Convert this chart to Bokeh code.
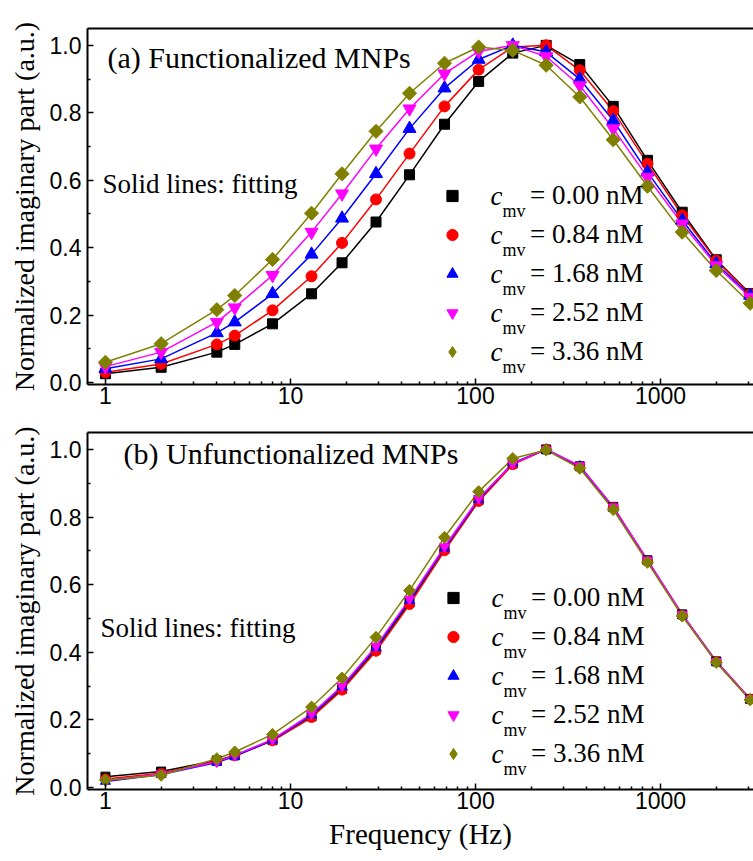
import math
from bokeh.plotting import figure
from bokeh.models import (Range1d, FixedTicker, PrintfTickFormatter, LogAxis,
                          Legend, LegendItem, Label)
from bokeh.layouts import column
from bokeh.embed import file_html
from bokeh.resources import INLINE

# ---------------- data ----------------
freq = [1, 2, 4, 5, 8, 13, 19, 29, 44, 68, 104, 159, 241, 366, 555, 850, 1310, 2000, 3050]

conc_labels = ["0.00", "0.84", "1.68", "2.52", "3.36"]

# (a) Functionalized MNPs
a_000 = [0.026, 0.045, 0.090, 0.113, 0.174, 0.263, 0.355, 0.476, 0.616, 0.766, 0.893, 0.977, 1.000, 0.943, 0.819, 0.659, 0.505, 0.364, 0.264]
a_084 = [0.030, 0.055, 0.113, 0.139, 0.214, 0.315, 0.414, 0.543, 0.679, 0.819, 0.928, 0.995, 1.000, 0.926, 0.805, 0.649, 0.496, 0.362, 0.262]
a_168 = [0.041, 0.070, 0.147, 0.179, 0.263, 0.380, 0.487, 0.619, 0.753, 0.873, 0.958, 1.000, 0.980, 0.900, 0.777, 0.624, 0.481, 0.352, 0.258]
a_252 = [0.047, 0.090, 0.179, 0.222, 0.318, 0.446, 0.560, 0.693, 0.812, 0.916, 0.982, 1.000, 0.967, 0.881, 0.753, 0.609, 0.471, 0.347, 0.253]
a_336 = [0.060, 0.115, 0.216, 0.258, 0.365, 0.502, 0.619, 0.745, 0.858, 0.947, 0.995, 0.985, 0.941, 0.847, 0.720, 0.582, 0.446, 0.332, 0.235]

# (b) Unfunctionalized MNPs
b_000 = [0.032, 0.047, 0.080, 0.095, 0.140, 0.210, 0.292, 0.408, 0.547, 0.705, 0.850, 0.958, 1.000, 0.950, 0.830, 0.672, 0.512, 0.373, 0.262]
b_084 = [0.025, 0.042, 0.078, 0.094, 0.138, 0.207, 0.288, 0.403, 0.541, 0.700, 0.846, 0.955, 1.000, 0.948, 0.828, 0.670, 0.510, 0.372, 0.261]
b_168 = [0.018, 0.038, 0.074, 0.092, 0.140, 0.214, 0.297, 0.413, 0.553, 0.708, 0.851, 0.960, 1.000, 0.950, 0.826, 0.670, 0.509, 0.371, 0.260]
b_252 = [0.020, 0.040, 0.076, 0.095, 0.142, 0.218, 0.300, 0.418, 0.557, 0.712, 0.855, 0.958, 1.000, 0.952, 0.830, 0.673, 0.512, 0.373, 0.262]
b_336 = [0.022, 0.036, 0.085, 0.105, 0.157, 0.238, 0.324, 0.444, 0.583, 0.740, 0.875, 0.973, 0.998, 0.944, 0.822, 0.666, 0.507, 0.370, 0.259]

x_major = [1, 10, 100, 1000]
x_minor = [2, 3, 4, 5, 6, 7, 8, 9, 20, 30, 40, 50, 60, 70, 80, 90,
           200, 300, 400, 500, 600, 700, 800, 900, 2000, 3000]
y_major = [0.0, 0.2, 0.4, 0.6, 0.8, 1.0]
y_minor = [0.1, 0.3, 0.5, 0.7, 0.9]

# ---------------- styles ----------------
colors = ["#000000", "#FF0000", "#0000FF", "#FF00FF", "#808000"]
markers = ["square", "circle", "triangle", "inverted_triangle", "square"]
legend_markers = ["square", "circle", "triangle", "inverted_triangle", "diamond"]
angles = [0, 0, 0, 0, math.pi / 4]
sizes_a = [10, 11, 13, 13, 10]
sizes_b = [9, 10, 10, 10, 8.5]

SERIF = "Liberation Serif"
SANS = "Liberation Sans"


def make_panel(series, sizes, height, top, bottom, title, title_pos,
               note_pos, legend_pos, xlabel=None):
    p = figure(width=753, height=height, x_axis_type="log",
               x_range=Range1d(0.8, 3180), y_range=Range1d(-0.006, 1.05),
               output_backend="svg", toolbar_location=None,
               min_border_left=87, min_border_right=0,
               min_border_top=top, min_border_bottom=bottom)
    p.outline_line_color = None
    p.grid.visible = False
    p.background_fill_color = "white"
    p.border_fill_color = "white"

    for ax in (p.xaxis, p.yaxis):
        ax.axis_line_width = 2
        ax.axis_line_color = "black"
        ax.major_tick_in = 6
        ax.major_tick_out = 0
        ax.minor_tick_in = 3
        ax.minor_tick_out = 0
        ax.major_tick_line_width = 1.5
        ax.minor_tick_line_width = 1.5
        ax.major_tick_line_color = "black"
        ax.minor_tick_line_color = "black"
        ax.major_label_text_font = SANS
        ax.major_label_text_font_size = "23px"
        ax.major_label_text_color = "black"

    p.xaxis.ticker = FixedTicker(ticks=x_major, minor_ticks=x_minor)
    p.xaxis.formatter = PrintfTickFormatter(format="%d")
    p.xaxis.major_label_standoff = 2
    p.yaxis.ticker = FixedTicker(ticks=y_major, minor_ticks=y_minor)
    p.yaxis.formatter = PrintfTickFormatter(format="%.1f")
    p.yaxis.major_label_standoff = 6

    p.yaxis.axis_label = "Normalized imaginary part (a.u.)"
    p.yaxis.axis_label_text_font = SERIF
    p.yaxis.axis_label_text_font_size = "28px"
    p.yaxis.axis_label_text_font_style = "normal"
    p.yaxis.axis_label_text_color = "black"
    p.yaxis.axis_label_standoff = 7
    if xlabel:
        p.xaxis.axis_label = xlabel
        p.xaxis.axis_label_text_font = SERIF
        p.xaxis.axis_label_text_font_size = "29px"
        p.xaxis.axis_label_text_font_style = "normal"
        p.xaxis.axis_label_text_color = "black"
        p.xaxis.axis_label_standoff = 6

    top_axis = LogAxis(ticker=FixedTicker(ticks=[]), axis_line_width=2,
                       axis_line_color="black", major_tick_in=0, major_tick_out=0,
                       minor_tick_in=0, minor_tick_out=0,
                       major_label_text_font_size="0px", major_label_standoff=0)
    p.add_layout(top_axis, "above")

    for vals, c in zip(series, colors):
        p.line(freq, vals, line_color=c, line_width=1.5)

    keys = []
    for vals, c, m, lm, a, s in zip(series, colors, markers, legend_markers, angles, sizes):
        if lm != m:
            # small diamond fully covered by the rotated square below; it only
            # supplies the diamond-shaped legend key (legend keys are never rotated)
            key = p.scatter(freq, vals, marker=lm, size=s * 1.05,
                            fill_color=c, line_color=c)
        r = p.scatter(freq, vals, marker=m, size=s, angle=a,
                      fill_color=c, line_color=c)
        keys.append(r if lm == m else key)

    items = [LegendItem(label="= %s nM" % lab, renderers=[k])
             for lab, k in zip(conc_labels, keys)]
    lx, ly = legend_pos
    row_h = 39
    leg = Legend(items=items, location=(lx, ly), orientation="vertical",
                 glyph_width=28, glyph_height=row_h, label_height=row_h,
                 spacing=0, padding=0, margin=0, label_standoff=64,
                 background_fill_alpha=0, border_line_color=None,
                 label_text_font=SERIF, label_text_font_size="27px",
                 label_text_color="black")
    p.add_layout(leg)

    n = len(conc_labels)
    for i in range(n):
        yc = ly + (n - 1 - i) * row_h + row_h / 2
        p.add_layout(Label(x=lx + 52, y=yc, x_units="screen", y_units="screen",
                           text="c", text_font=SERIF, text_font_style="italic",
                           text_font_size="27px", text_baseline="middle",
                           text_color="black"))
        p.add_layout(Label(x=lx + 64, y=yc - 15, x_units="screen", y_units="screen",
                           text="mv", text_font=SERIF, text_font_size="18px",
                           text_baseline="alphabetic", text_color="black"))

    p.add_layout(Label(x=title_pos[0], y=title_pos[1], x_units="screen", y_units="screen",
                       text=title, text_font=SERIF, text_font_size="30px",
                       text_baseline="middle", text_color="black"))
    p.add_layout(Label(x=note_pos[0], y=note_pos[1], x_units="screen", y_units="screen",
                       text="Solid lines: fitting", text_font=SERIF, text_font_size="27px",
                       text_baseline="middle", text_color="black"))
    return p


pa = make_panel([a_000, a_084, a_168, a_252, a_336], sizes_a, 420, 28, 36,
                "(a) Functionalized MNPs", (20, 327), (15, 201), (351, 13))
pb = make_panel([b_000, b_084, b_168, b_252, b_336], sizes_b, 441, 12, 72,
                "(b) Unfunctionalized MNPs", (36, 336), (13, 162), (352, 16),
                xlabel="Frequency (Hz)")

layout = column(pa, pb, spacing=0)
open("out.html", "w").write(file_html(layout, INLINE))
